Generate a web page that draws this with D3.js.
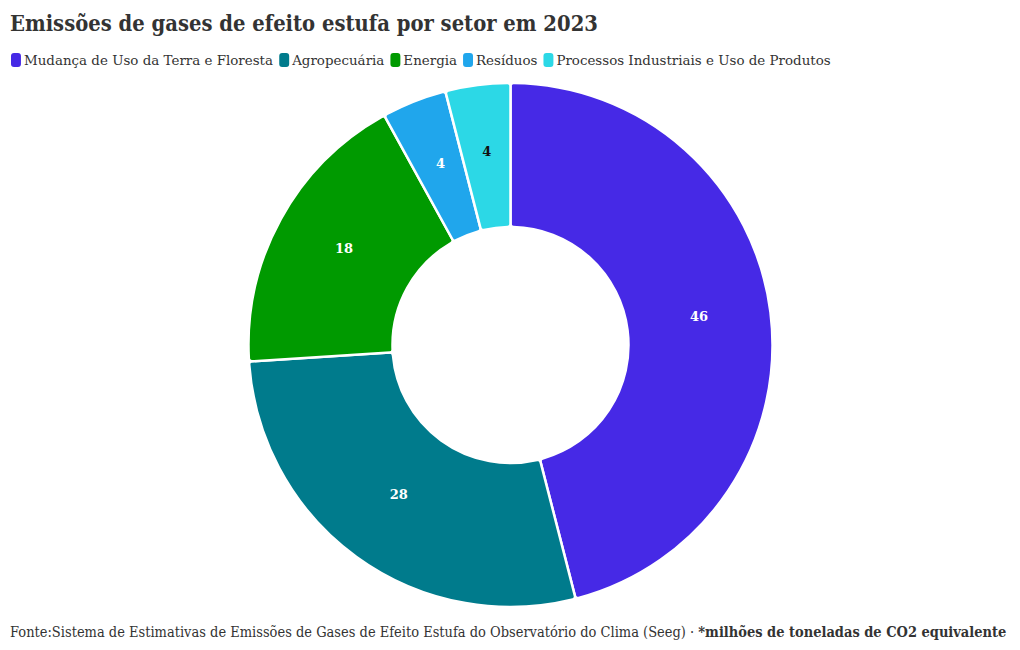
<!DOCTYPE html>
<html><head><meta charset="utf-8">
<script src="https://cdn.jsdelivr.net/npm/d3@7"></script>
<style>body{margin:0;background:#fff}svg{display:block}</style>
</head><body>
<svg id="c" width="1020" height="650"></svg>
<script>
const categories = ["Mudança de Uso da Terra e Floresta","Agropecuária","Energia","Resíduos","Processos Industriais e Uso de Produtos"];
const values = [46, 28, 18, 4, 4];
const colors = ["#4629e6","#007b8c","#009a00","#20a6ec","#2cd8e6"];
const labelColors = ["#fff","#fff","#fff","#fff","#111"];
const title = "Emissões de gases de efeito estufa por setor em 2023";
const footerA = "Fonte:Sistema de Estimativas de Emissões de Gases de Efeito Estufa do Observatório do Clima (Seeg) · ";
const footerB = "*milhões de toneladas de CO2 equivalente";

const svg = d3.select("#c");
const serif = "'DejaVu Serif', 'Liberation Serif', serif";

function fitX(sel, x0, targetW){
  const w = sel.node().getBBox().width;
  const s = targetW / w;
  sel.attr("transform",`translate(${x0*(1-s)},0) scale(${s},1)`);
}

const tg = svg.append("g");
tg.append("text").attr("x",10).attr("y",31).attr("font-family",serif)
  .attr("font-weight","bold").attr("font-size",22).attr("fill","#333").text(title);
fitX(tg, 10, 588);

// legend
const lg = svg.append("g");
let x = 11;
const fs = 13.5;
categories.forEach((c,i)=>{
  lg.append("rect").attr("x",x).attr("y",53).attr("width",10).attr("height",14).attr("rx",3).attr("fill",colors[i]);
  const tx = lg.append("text").attr("x",x+13).attr("y",65).attr("font-family",serif).attr("font-size",fs).attr("fill","#333").text(c);
  const w = tx.node().getComputedTextLength();
  x += 13 + w + 6;
});
fitX(lg, 11, 820);

// donut
const cx = 510.5, cy = 345, R = 262, r0 = 118;
const pie = d3.pie().sort(null).value(d=>d)(values);
const arc = d3.arc().innerRadius(r0).outerRadius(R).cornerRadius(3);
const g = svg.append("g").attr("transform",`translate(${cx},${cy})`);
g.selectAll("path").data(pie).join("path").attr("d",arc)
  .attr("fill",(d,i)=>colors[i]).attr("stroke","#fff").attr("stroke-width",2.5);
g.selectAll("text").data(pie).join("text")
  .attr("transform",d=>`translate(${arc.centroid(d)})`)
  .attr("text-anchor","middle").attr("dy","0")
  .attr("font-family",serif).attr("font-size",13).attr("font-weight","bold")
  .attr("fill",(d,i)=>labelColors[i]).text(d=>d.data);

// footer
const fg = svg.append("g");
const f = fg.append("text").attr("x",10).attr("y",637).attr("font-family",serif).attr("font-size",14).attr("fill","#333");
f.append("tspan").text(footerA);
f.append("tspan").attr("font-weight","bold").text(footerB);
fitX(fg, 10, 997);
</script>
</body></html>
